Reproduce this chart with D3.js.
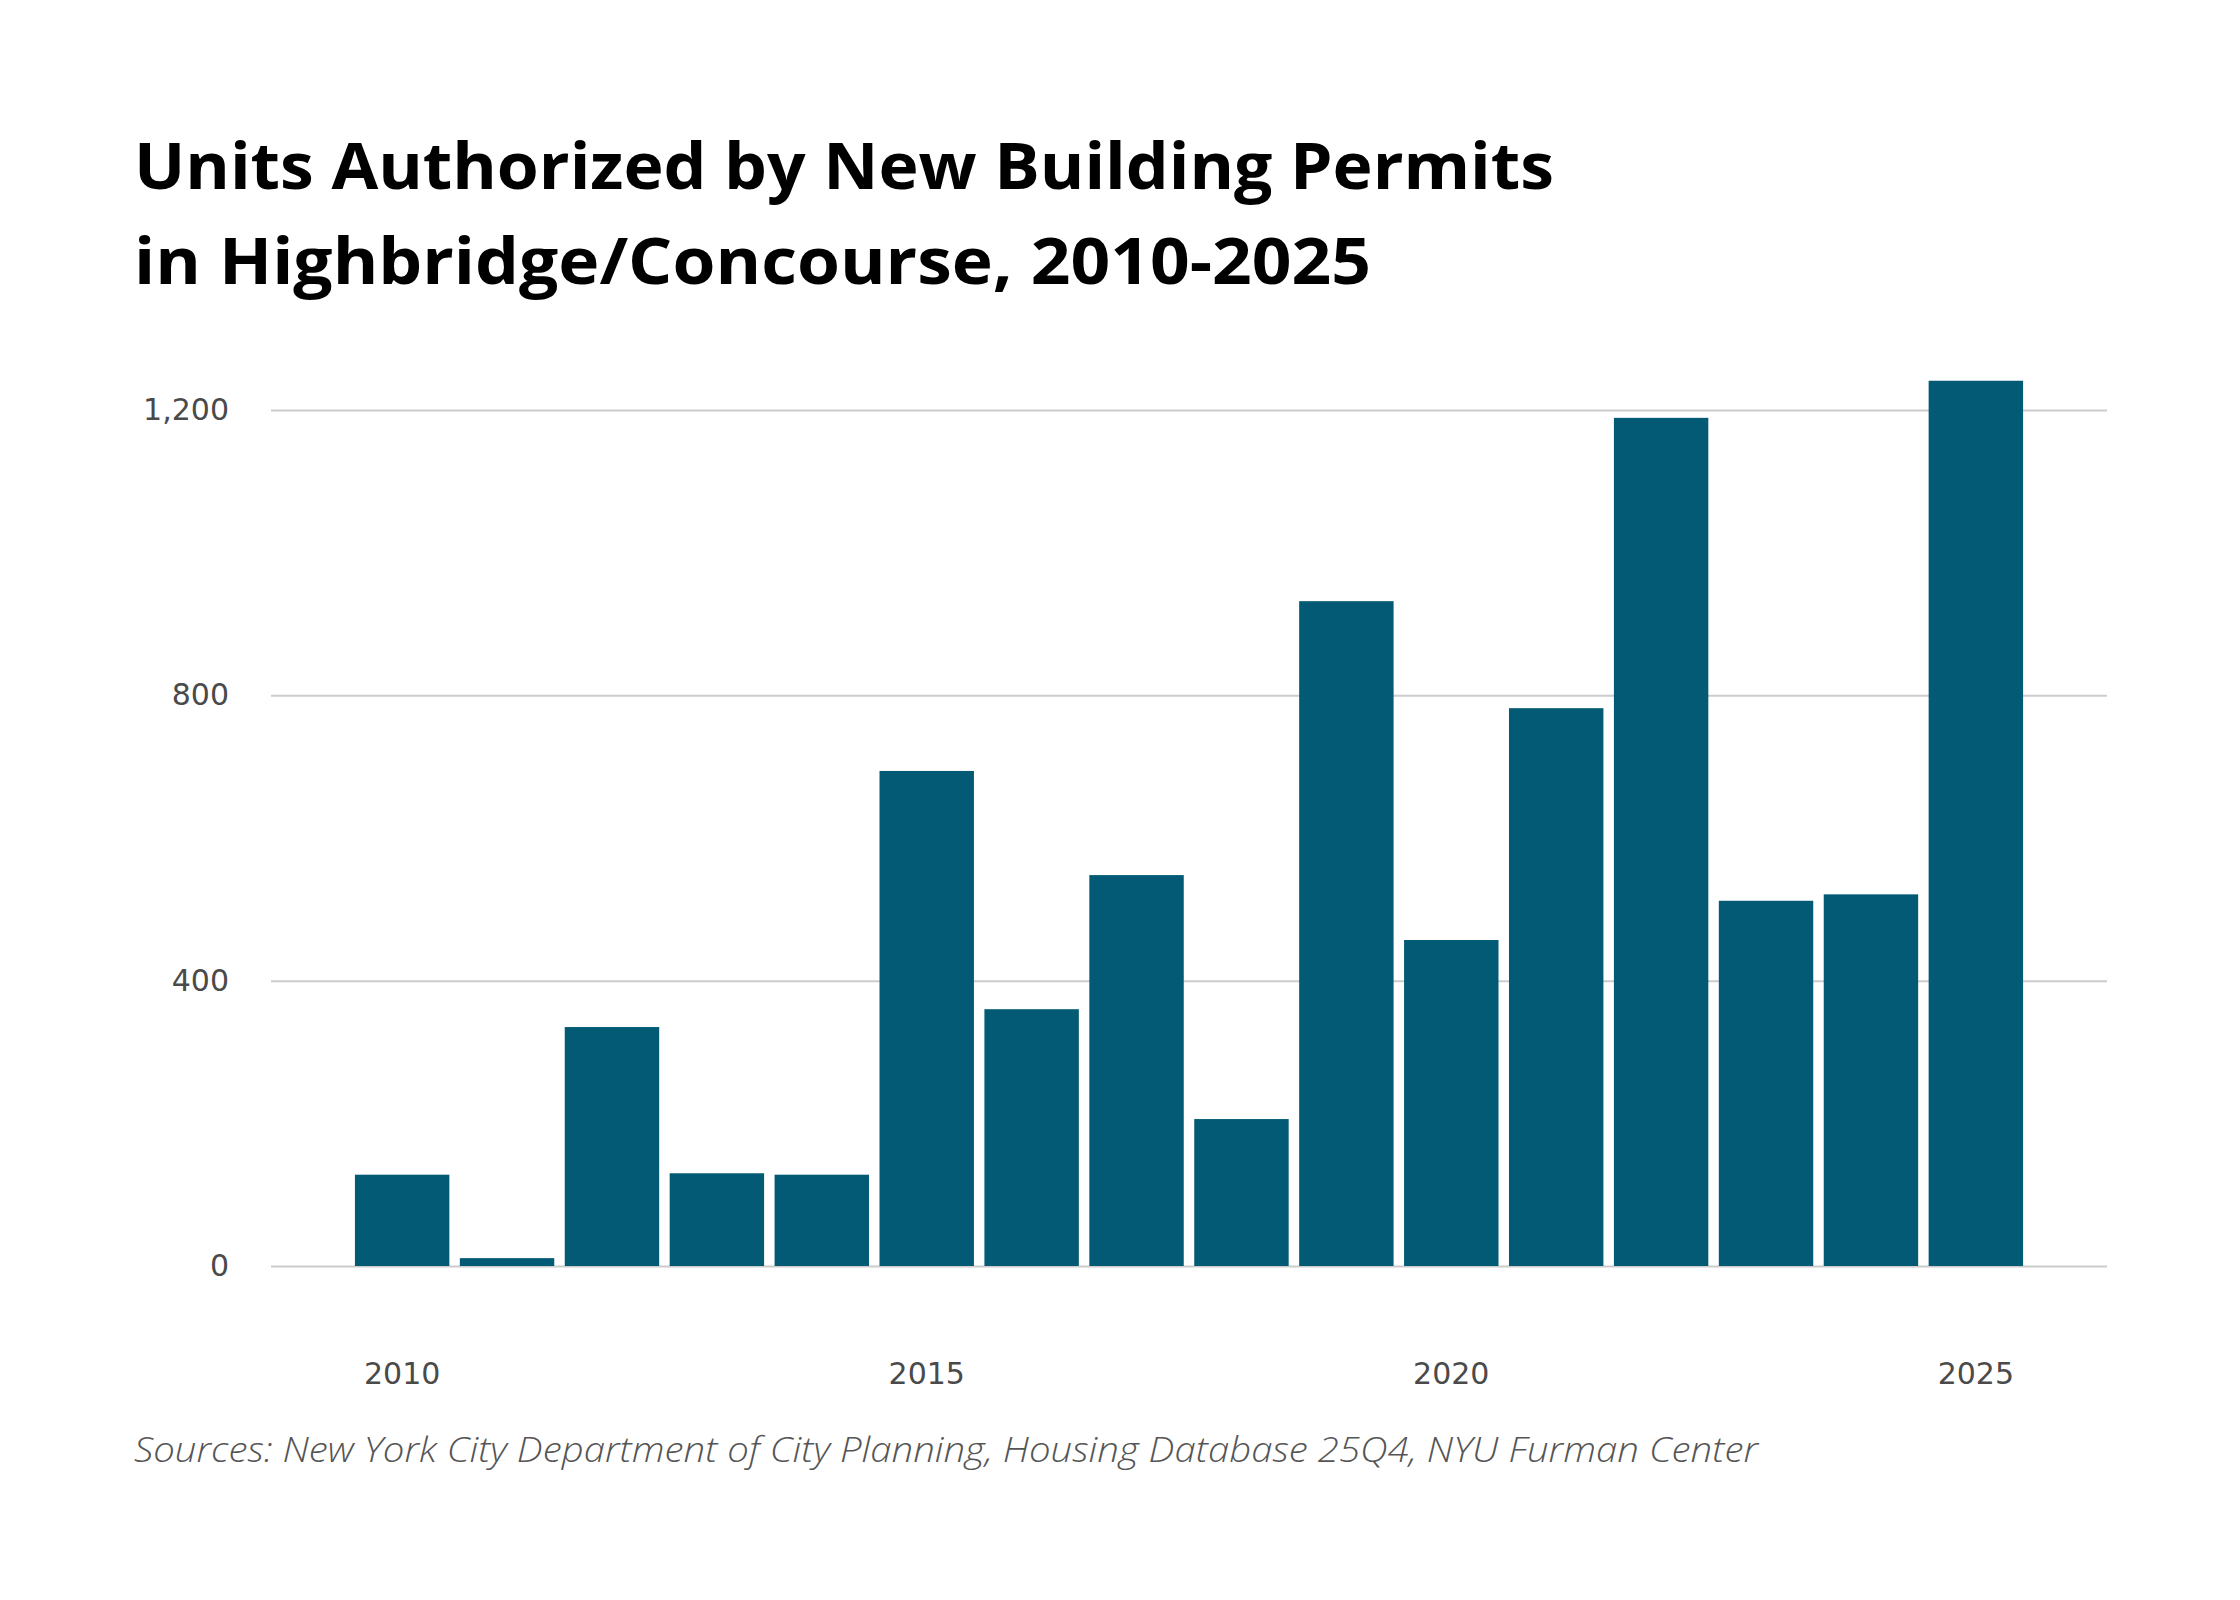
<!DOCTYPE html>
<html>
<head>
<meta charset="utf-8">
<script src="https://cdn.jsdelivr.net/npm/d3@7"></script>
<style>
  html, body { margin: 0; padding: 0; background: #fff; }
  svg { display: block; }
</style>
</head>
<body>
<svg id="chart" width="2240" height="1600"></svg>
<script>
const years = [2010, 2011, 2012, 2013, 2014, 2015, 2016, 2017, 2018, 2019, 2020, 2021, 2022, 2023, 2024, 2025];
const units = [128, 11, 335, 130, 128, 694, 360, 548, 206, 932, 457, 782, 1189, 512, 521, 1241];
const yTicks = [0, 400, 800, 1200];
const xTicks = [2010, 2015, 2020, 2025];
const titleLines = ["Units Authorized by New Building Permits", "in Highbridge/Concourse, 2010-2025"];
const sourceText = "Sources: New York City Department of City Planning, Housing Database 25Q4, NYU Furman Center";

const svg = d3.select("#chart");
svg.append("rect").attr("width", 2240).attr("height", 1600).attr("fill", "#ffffff");

const left = 271, right = 2107, y0 = 1266, y1200 = 410;
const x = d3.scaleBand().domain(years).range([left, right]).paddingInner(0.1).paddingOuter(0.8);
const y = d3.scaleLinear().domain([0, 1200]).range([y0, y1200]);

// title
const titleWidths = [1420, 1237];
const title = svg.append("g");
titleLines.forEach((t, i) => {
  title.append("text")
    .attr("x", 134).attr("y", 189 + i * 95)
    .attr("font-family", "'Open Sans', Lato, sans-serif")
    .attr("font-weight", 700)
    .attr("font-size", 64)
    .attr("fill", "#000")
    .attr("textLength", titleWidths[i])
    .attr("lengthAdjust", "spacingAndGlyphs")
    .text(t);
});

// gridlines
const grid = svg.append("g").attr("transform", `translate(${left},0)`)
  .call(d3.axisLeft(y).tickValues(yTicks).tickSize(-(right - left)).tickFormat(""));
grid.select(".domain").remove();
grid.selectAll(".tick line").attr("stroke", "#cccccc").attr("stroke-width", 2);

// bars
svg.append("g").selectAll("rect")
  .data(years.map((yr, i) => ({ yr, v: units[i] })))
  .join("rect")
  .attr("x", d => x(d.yr))
  .attr("width", x.bandwidth())
  .attr("y", d => y(d.v))
  .attr("height", d => y(0) - y(d.v))
  .attr("fill", "#025a74");

// y axis labels
const yAxis = svg.append("g").attr("transform", `translate(${left},0)`)
  .call(d3.axisLeft(y).tickValues(yTicks).tickSize(0).tickPadding(42).tickFormat(d3.format(",")));
yAxis.select(".domain").remove();
yAxis.selectAll("text")
  .attr("font-family", "'DejaVu Sans', 'Open Sans', sans-serif")
  .attr("font-size", 30)
  .attr("fill", "#4a4a4a");

// x axis labels
const xAxis = svg.append("g").attr("transform", `translate(0,${y0})`)
  .call(d3.axisBottom(x).tickValues(xTicks).tickSize(0).tickPadding(97));
xAxis.select(".domain").remove();
xAxis.selectAll("text")
  .attr("font-family", "'DejaVu Sans', 'Open Sans', sans-serif")
  .attr("font-size", 30)
  .attr("fill", "#4a4a4a");

// source
svg.append("text")
  .attr("x", 134).attr("y", 1462)
  .attr("font-family", "'Open Sans', Lato, sans-serif")
  .attr("font-style", "italic")
  .attr("font-weight", 300)
  .attr("font-size", 34)
  .attr("fill", "#555")
  .attr("textLength", 1624)
  .attr("lengthAdjust", "spacingAndGlyphs")
  .text(sourceText);
</script>
</body>
</html>
